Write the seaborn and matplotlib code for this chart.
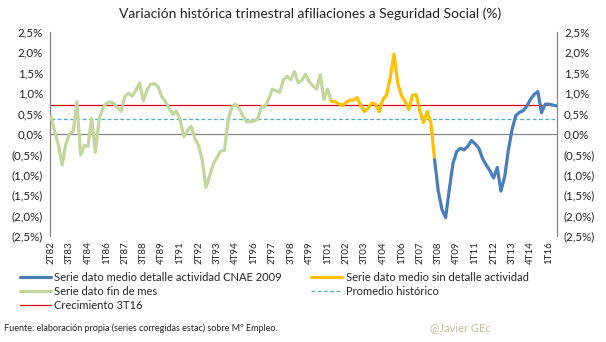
import matplotlib
matplotlib.use("Agg")
import matplotlib.pyplot as plt
import seaborn as sns
import pandas as pd
from matplotlib.lines import Line2D

# ---------------- data ----------------
# quarterly categories from 2T82 to 3T16 (138 quarters)
start_year, start_q, n_quarters = 1982, 2, 138
categories = []
for i in range(n_quarters):
    q = (start_q - 1 + i) % 4 + 1
    y = start_year + (start_q - 1 + i) // 4
    categories.append(f"{q}T{y % 100:02d}")

# "Serie dato fin de mes" (indices 0..76)
green_vals = [0.42, 0.05, -0.28, -0.76, -0.24, 0.00, 0.07, 0.79, -0.51, -0.28,
              -0.30, 0.38, -0.45, 0.35, 0.63, 0.75, 0.79, 0.75, 0.64, 0.56,
              0.92, 1.00, 0.93, 1.08, 1.25, 0.81, 1.08, 1.22, 1.23, 1.16,
              0.92, 0.79, 0.64, 0.48, 0.56, 0.34, -0.07, 0.09, 0.19, -0.12,
              -0.28, -0.65, -1.31, -1.02, -0.73, -0.57, -0.42, -0.40, 0.34, 0.66,
              0.73, 0.63, 0.45, 0.30, 0.30, 0.32, 0.36, 0.67, 0.67, 0.85,
              1.10, 1.06, 1.02, 1.33, 1.41, 1.33, 1.53, 1.25, 1.32, 1.47,
              1.28, 1.18, 1.10, 1.45, 0.85, 1.10, 0.80]
# "Serie dato medio sin detalle actividad" (indices 76..104)
yellow_vals = [0.80, 0.79, 0.74, 0.70, 0.77, 0.83, 0.83, 0.89, 0.70, 0.55,
               0.64, 0.76, 0.73, 0.55, 0.85, 0.96, 1.40, 1.96, 1.25, 0.94,
               0.80, 0.60, 0.95, 0.97, 0.57, 0.28, 0.55, 0.27, -0.63]
# "Serie dato medio detalle actividad CNAE 2009" (indices 104..137)
blue_vals = [-0.63, -1.40, -1.85, -2.05, -1.35, -0.72, -0.43, -0.35, -0.39, -0.30,
             -0.16, -0.24, -0.35, -0.60, -0.76, -0.90, -1.08, -0.82, -1.40, -1.05,
             -0.40, 0.10, 0.45, 0.53, 0.57, 0.68, 0.85, 0.97, 1.04, 0.52,
             0.73, 0.73, 0.71, 0.69]
green_start, yellow_start, blue_start = 0, 76, 104

promedio_historico = 0.37
crecimiento_3T16 = 0.70

y_ticks = [2.5, 2.0, 1.5, 1.0, 0.5, 0.0, -0.5, -1.0, -1.5, -2.0, -2.5]
x_tick_labels = ["2T82", "3T83", "4T84", "1T86", "2T87", "3T88", "4T89", "1T91",
                 "2T92", "3T93", "4T94", "1T96", "2T97", "3T98", "4T99", "1T01",
                 "2T02", "3T03", "4T04", "1T06", "2T07", "3T08", "4T09", "1T11",
                 "2T12", "3T13", "4T14", "1T16"]

labels = {
    "blue": "Serie dato medio detalle actividad CNAE 2009",
    "yellow": "Serie dato medio sin detalle actividad",
    "green": "Serie dato fin de mes",
    "dashed": "Promedio histórico",
    "red": "Crecimiento 3T16",
}

# ---------------- plot ----------------
sns.set_theme(style="white")
plt.rcParams["font.family"] = ["Lato", "DejaVu Sans"]

C_BLUE = "#4A7EBB"
C_YELLOW = "#FFC000"
C_GREEN = "#C3D69B"
C_RED = "#D40000"
C_DASH = "#4BACC6"
C_AXIS = "#868686"

fig = plt.figure(figsize=(6.06, 3.42), dpi=100)
ax = fig.add_axes([50 / 606, 1 - 236 / 342, (557 - 50) / 606, (236 - 32) / 342])

x_all = list(range(n_quarters))
ax.axhline(0, color=C_AXIS, lw=0.9, zorder=1)
sns.lineplot(x=x_all, y=[promedio_historico] * n_quarters, ax=ax, color=C_DASH,
             lw=0.9, linestyle=(0, (3, 2)), zorder=2)
sns.lineplot(x=x_all, y=[crecimiento_3T16] * n_quarters, ax=ax, color=C_RED,
             lw=0.9, zorder=2)

sns.lineplot(x=list(range(green_start, green_start + len(green_vals))), y=green_vals,
             ax=ax, color=C_GREEN, lw=2.3, zorder=3)
sns.lineplot(x=list(range(yellow_start, yellow_start + len(yellow_vals))), y=yellow_vals,
             ax=ax, color=C_YELLOW, lw=2.3, zorder=3)
sns.lineplot(x=list(range(blue_start, blue_start + len(blue_vals))), y=blue_vals,
             ax=ax, color=C_BLUE, lw=2.3, zorder=3)

ax.set_xlim(-0.3, n_quarters - 0.8)
ax.set_ylim(-2.5, 2.5)


def fmt(v):
    s = f"{abs(v):.1f}".replace(".", ",") + "%"
    return f"({s})" if v < 0 else s


ax.set_yticks(y_ticks)
ax.set_yticklabels([fmt(v) for v in y_ticks], fontsize=8.3, color="#222222")
ax.tick_params(axis="y", length=0, pad=5, labelright=True, labelleft=True, right=False)

tick_pos = [categories.index(t) for t in x_tick_labels]
ax.set_xticks(tick_pos)
ax.set_xticklabels(x_tick_labels, rotation=90, fontsize=7, color="#222222")
ax.tick_params(axis="x", length=0, pad=4)

for s in ["left", "right"]:
    ax.spines[s].set_color(C_AXIS)
    ax.spines[s].set_linewidth(0.9)
ax.spines["top"].set_visible(False)
ax.spines["bottom"].set_visible(False)
ax.set_xlabel("")
ax.set_ylabel("")

fig.text(0.512, 1 - 14 / 342, "Variación histórica trimestral afiliaciones a Seguridad Social (%)",
         ha="center", va="center", fontsize=10, color="#222222")

handles = [
    Line2D([], [], color=C_BLUE, lw=2.3),
    Line2D([], [], color=C_GREEN, lw=2.3),
    Line2D([], [], color=C_RED, lw=0.9),
    Line2D([], [], color=C_YELLOW, lw=2.3),
    Line2D([], [], color=C_DASH, lw=0.9, linestyle=(0, (3, 2))),
]
leg_labels = [labels["blue"], labels["green"], labels["red"], labels["yellow"], labels["dashed"]]
fig.legend(handles, leg_labels, ncol=2, loc="upper left",
           bbox_to_anchor=(20 / 606, 1 - 272 / 342), frameon=False, fontsize=8,
           handlelength=2.8, handletextpad=0.3, columnspacing=2.6, labelspacing=0.25,
           borderaxespad=0, borderpad=0)

fig.text(4 / 606, 1 - 328 / 342,
         "Fuente: elaboración propia (series corregidas estac) sobre Mº Empleo.",
         ha="left", va="center", fontsize=6.5, color="#222222")
fig.text(430 / 606, 1 - 328 / 342, "@Javier GEc", ha="left", va="center",
         fontsize=8, color="#C4BD97")

fig.savefig("out.png", dpi=100)
